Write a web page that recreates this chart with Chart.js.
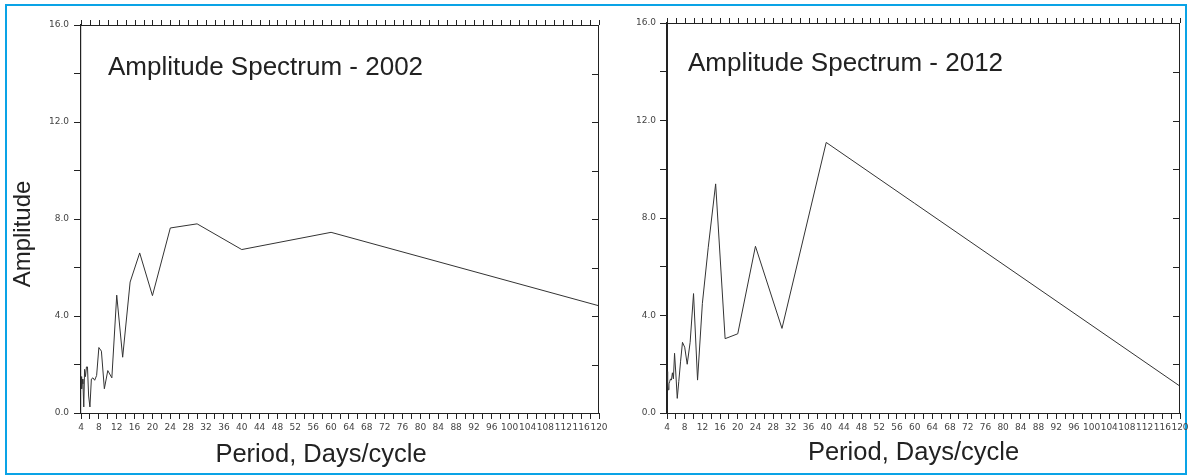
<!DOCTYPE html>
<html>
<head>
<meta charset="utf-8">
<script src="https://cdn.jsdelivr.net/npm/chart.js@4.4.1/dist/chart.umd.min.js"></script>
<style>
html,body{margin:0;padding:0;background:#fff;}
body{width:1188px;height:476px;position:relative;overflow:hidden;}
#frame{position:absolute;left:5px;top:4px;width:1182px;height:471px;border:2px solid #0AA3E6;box-sizing:border-box;}
canvas{position:absolute;top:0;}
</style>
</head>
<body>
<div id="frame"></div>
<canvas id="c1" width="620" height="476" style="left:0px"></canvas>
<canvas id="c2" width="590" height="476" style="left:620px"></canvas>
<script>
// Periods (days/cycle) of the spectral estimates
const periods = [4, 4.14, 4.29, 4.44, 4.62, 4.8, 5, 5.22, 5.45, 5.71, 6, 6.32, 6.67, 7.06, 7.5, 8, 8.57, 9.23, 10, 10.91, 12, 13.33, 15, 17.14, 20, 24, 30, 40, 60, 120];
// Amplitudes
const amp2002 = [1.5, 1.0, 1.4, 1.2, 0.25, 1.8, 1.5, 1.9, 1.9, 0.7, 0.25, 1.4, 1.45, 1.35, 1.55, 2.7, 2.55, 1.0, 1.75, 1.45, 4.86, 2.3, 5.4, 6.6, 4.84, 7.63, 7.8, 6.74, 7.45, 4.42];
// Amplitudes
const amp2012 = [1.7, 1.2, 0.95, 1.2, 1.3, 1.4, 1.35, 1.65, 1.4, 2.45, 1.6, 0.6, 1.3, 2.1, 2.9, 2.7, 2.0, 2.9, 4.9, 1.35, 4.5, 6.8, 9.4, 3.05, 3.25, 6.84, 3.47, 11.1, 8.6, 1.1];
// Tick labels
const xTickLabels = [4, 8, 12, 16, 20, 24, 28, 32, 36, 40, 44, 48, 52, 56, 60, 64, 68, 72, 76, 80, 84, 88, 92, 96, 100, 104, 108, 112, 116, 120];
const yTickValues = [0, 4, 8, 12, 16];
const yTickLabels = ['0.0', '4.0', '8.0', '12.0', '16.0'];
const panelTitles = ['Amplitude Spectrum - 2002', 'Amplitude Spectrum - 2012'];
const xAxisTitle = 'Period, Days/cycle';
const yAxisTitle = 'Amplitude';

const X_MIN = 4, X_MAX = 120, X_STEP = 2;
const Y_MIN = 0, Y_MAX = 16, Y_STEP = 2;

const framePlugin = {
  id: 'frameTicks',
  afterDraw(chart) {
    const {ctx, chartArea: a, scales: {x, y}} = chart;
    ctx.save();
    ctx.strokeStyle = '#222';
    ctx.lineWidth = 1;
    ctx.beginPath();
    ctx.moveTo(a.left, a.top + 0.5); ctx.lineTo(a.right, a.top + 0.5);
    ctx.moveTo(a.right - 0.5, a.top); ctx.lineTo(a.right - 0.5, a.bottom);
    x.ticks.forEach(t => {
      const px = Math.round(x.getPixelForValue(t.value)) + 0.5;
      ctx.moveTo(px, a.top); ctx.lineTo(px, a.top - 5);
    });
    y.ticks.forEach(t => {
      const py = Math.round(y.getPixelForValue(t.value)) + 0.5;
      ctx.moveTo(a.right, py); ctx.lineTo(a.right - 7, py);
    });
    ctx.stroke();
    ctx.restore();
  }
};

const textPlugin = {
  id: 'panelText',
  afterDraw(chart, args, opts) {
    const {ctx, chartArea: a} = chart;
    ctx.save();
    ctx.fillStyle = '#222';
    ctx.textBaseline = 'alphabetic';
    // panel title inside plot
    ctx.font = '26px "Liberation Sans", Arial, sans-serif';
    ctx.textAlign = 'left';
    ctx.fillText(opts.title, a.left + opts.titleDx, a.top + opts.titleDy);
    // x axis title
    ctx.font = '25.5px "Liberation Sans", Arial, sans-serif';
    ctx.textAlign = 'center';
    ctx.fillText(xAxisTitle, (a.left + a.right) / 2 + opts.xTitleDx, opts.xTitleY);
    // y axis title
    if (opts.yTitle) {
      ctx.font = '24px "Liberation Sans", Arial, sans-serif';
      ctx.translate(opts.yTitleX, (a.top + a.bottom) / 2 + opts.yTitleDy);
      ctx.rotate(-Math.PI / 2);
      ctx.textAlign = 'center';
      ctx.fillText(yAxisTitle, 0, 0);
    }
    ctx.restore();
  }
};

function makePanel(id, amps, cfg) {
  return new Chart(document.getElementById(id), {
    type: 'line',
    data: {
      datasets: [{
        data: periods.map((p, i) => ({x: p, y: amps[i]})),
        borderColor: '#333',
        borderWidth: 1,
        pointRadius: 0,
        tension: 0,
        fill: false
      }]
    },
    options: {
      responsive: false,
      animation: false,
      devicePixelRatio: 1,
      layout: {padding: {left: 0, right: cfg.padRight, top: cfg.top, bottom: 0}},
      plugins: {
        legend: {display: false},
        tooltip: {enabled: false},
        panelText: cfg.text
      },
      scales: {
        x: {
          type: 'linear', min: X_MIN, max: X_MAX,
          afterBuildTicks: s => {
            const t = [];
            for (let v = X_MIN; v <= X_MAX; v += X_STEP) t.push({value: v});
            s.ticks = t;
          },
          ticks: {
            autoSkip: false, maxRotation: 0, minRotation: 0, padding: 3,
            color: '#444', font: {family: '"DejaVu Sans", sans-serif', size: 9},
            callback: v => xTickLabels.includes(v) ? String(v) : ''
          },
          grid: {drawOnChartArea: false, tickLength: 6, tickColor: '#222', tickWidth: 1},
          border: {color: '#222', width: 1},
          afterFit: s => { s.height = 476 - cfg.bottom; }
        },
        y: {
          type: 'linear', min: Y_MIN, max: Y_MAX,
          afterBuildTicks: s => {
            const t = [];
            for (let v = Y_MIN; v <= Y_MAX; v += Y_STEP) t.push({value: v});
            s.ticks = t;
          },
          ticks: {
            autoSkip: false, padding: cfg.yPad,
            color: '#444', font: {family: '"DejaVu Sans", sans-serif', size: 9},
            callback: v => { const i = yTickValues.indexOf(v); return i >= 0 ? yTickLabels[i] : ''; }
          },
          grid: {drawOnChartArea: false, tickLength: 7, tickColor: '#222', tickWidth: 1},
          border: {color: '#222', width: cfg.yBorder},
          afterFit: s => { s.width = cfg.axisW; }
        }
      }
    },
    plugins: [framePlugin, textPlugin]
  });
}

makePanel('c1', amp2002, {
  padRight: 21, top: 25, bottom: 413, axisW: 81, yPad: 5, yBorder: 1.2,
  text: {title: panelTitles[0], titleDx: 27, titleDy: 50, xTitleDx: -19, xTitleY: 462, yTitle: true, yTitleX: 30, yTitleDy: 15}
});
makePanel('c2', amp2012, {
  padRight: 30, top: 23, bottom: 413, axisW: 47, yPad: 4, yBorder: 2,
  text: {title: panelTitles[1], titleDx: 21, titleDy: 48, xTitleDx: -10, xTitleY: 460, yTitle: false}
});
</script>
</body>
</html>
